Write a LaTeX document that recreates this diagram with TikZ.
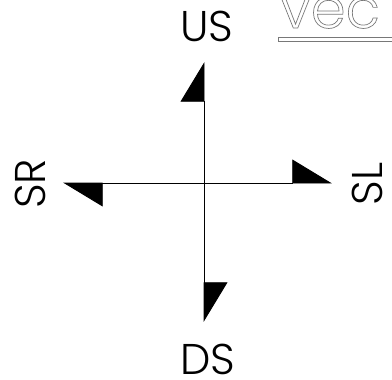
\documentclass[tikz,border=0pt]{standalone}
\usepackage{fontspec}
\usepackage{xcolor}
\usepackage{tikz}
\usetikzlibrary{arrows.meta,positioning}
\newfontfamily\dirfont{Poppins}[UprightFont=* Light]
\definecolor{outlinegray}{RGB}{120,120,120}

\begin{document}
\begin{tikzpicture}[
    x=1pt, y=-1pt,
    dirlabel/.style={font=\dirfont\fontsize{43}{43}\selectfont, inner sep=0pt},
    axis/.style={line width=0.9pt, -{Triangle[harpoon, length=39pt, width=47pt]}}
  ]
    \useasboundingbox (0,0) rectangle (392,380);
    \coordinate (origin) at (204,183);
    \coordinate (up) at (204,62);
    \coordinate (down) at (204,322);
    \coordinate (left) at (63,183);
    \coordinate (right) at (332,183);

    \node[dirlabel] (us) at (207,26) {US};
    \node[dirlabel] (ds) at (208,359) {DS};
    \node[dirlabel, rotate=90] (sr) at (30,184) {SR};
    \node[dirlabel, rotate=90] (sl) at (367,184) {SL};

    \draw[axis] (origin) -- (up);
    \draw[axis] (origin) -- (down);
    \draw[axis] (origin) -- (left);
    \draw[axis] (origin) -- (right);

    \node[anchor=base west, inner sep=0pt, font=\dirfont\fontsize{56}{56}\selectfont] (title) at (280,28)
      {\special{pdf:literal direct 1 Tr 0.7 w 0.47 G}vec\special{pdf:literal direct 0 Tr 0 G}};
    \draw[outlinegray, fill=white, line width=0.7pt] (278,37) rectangle (396,41);
  \end{tikzpicture}
\end{document}
